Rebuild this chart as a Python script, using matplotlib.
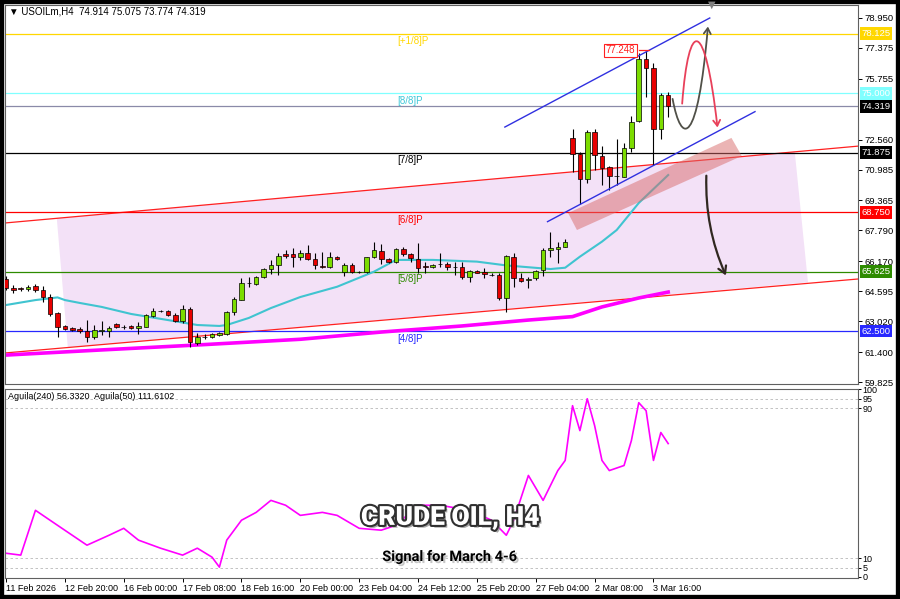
import numpy as np
import matplotlib.pyplot as plt
import matplotlib.patheffects as pe
from matplotlib.patches import Polygon, FancyArrowPatch, Rectangle
from matplotlib.path import Path
from matplotlib.transforms import blended_transform_factory

plt.rcParams['font.family'] = ['Liberation Sans', 'DejaVu Sans']

# H4 candles, one per bar (bar 0 = 11 Feb 2026)
opens = [65.23, 64.79, 64.74, 64.70, 64.87, 64.66, 64.27, 63.43, 62.77, 62.68,
         62.59, 62.50, 62.17, 62.53, 62.52, 62.88, 62.74, 62.77, 62.65, 62.73,
         63.29, 63.56, 63.57, 63.35, 63.05, 63.68, 61.86, 62.19, 62.17, 62.30,
         62.35, 63.52, 64.13, 65.03, 64.97, 65.33, 65.75, 65.99, 66.55, 66.54,
         66.41, 66.59, 66.27, 65.94, 65.89, 66.41, 65.62, 65.97, 65.63, 65.59,
         66.38, 66.71, 66.27, 66.15, 66.80, 66.54, 66.27, 65.90, 65.85, 66.00,
         66.01, 65.87, 65.85, 65.36, 65.67, 65.62, 65.47, 65.43, 64.24, 66.41,
         65.27, 65.18, 65.27, 65.69, 66.76, 66.83, 66.94, 72.63, 71.81, 70.47,
         72.98, 71.70, 71.10, 70.67, 70.61, 72.10, 73.55, 76.78, 76.31, 73.10,
         74.914]
closes = [64.76, 64.66, 64.69, 64.83, 64.66, 64.27, 63.40, 62.73, 62.63, 62.56,
          62.50, 62.17, 62.56, 62.56, 62.68, 62.70, 62.72, 62.65, 62.77, 63.35,
          63.57, 63.58, 63.35, 63.05, 63.68, 61.91, 62.17, 62.21, 62.33, 62.38,
          63.52, 64.17, 65.01, 65.05, 65.33, 65.75, 65.99, 66.45, 66.45, 66.41,
          66.59, 66.27, 65.97, 65.89, 66.41, 66.29, 65.97, 65.62, 65.61, 66.38,
          66.76, 66.27, 66.15, 66.80, 66.54, 66.33, 65.83, 65.87, 65.97, 66.03,
          65.89, 65.85, 65.36, 65.66, 65.57, 65.50, 65.44, 64.22, 66.42, 65.27,
          65.14, 65.25, 65.67, 66.76, 66.88, 66.94, 67.20, 71.81, 70.47, 72.98,
          71.75, 71.05, 70.66, 70.65, 72.10, 73.50, 76.78, 76.31, 73.10, 74.91,
          74.319]
highs = [65.39, 64.92, 64.81, 64.90, 64.97, 64.89, 64.45, 63.50, 62.82, 62.74,
         62.73, 63.08, 62.82, 63.04, 62.77, 62.94, 62.84, 62.82, 62.99, 63.40,
         63.70, 63.63, 63.61, 63.43, 63.87, 63.75, 62.38, 62.33, 62.40, 62.45,
         63.56, 64.27, 65.27, 65.36, 65.39, 65.82, 66.24, 66.59, 66.76, 66.85,
         66.76, 67.02, 66.59, 66.67, 66.67, 66.47, 66.06, 66.06, 65.68, 66.41,
         67.20, 67.08, 66.34, 66.85, 66.94, 66.62, 67.11, 66.15, 66.05, 66.59,
         66.15, 66.15, 66.15, 65.71, 65.73, 65.80, 65.53, 65.54, 66.50, 66.62,
         65.54, 65.36, 65.71, 66.84, 67.72, 67.20, 67.32, 73.10, 71.93, 73.07,
         73.10, 72.22, 71.17, 72.58, 72.37, 73.80, 77.13, 77.248, 76.60, 75.00,
         75.075]
lows = [64.66, 64.50, 64.61, 64.63, 64.58, 64.04, 63.29, 62.21, 62.56, 62.50,
        62.38, 61.94, 62.08, 62.30, 62.21, 62.65, 62.61, 62.59, 62.35, 62.69,
        63.22, 63.52, 63.29, 62.99, 62.91, 61.68, 61.77, 62.10, 62.14, 62.24,
        62.30, 63.35, 64.11, 64.83, 64.92, 65.29, 65.50, 65.45, 66.33, 65.89,
        66.24, 66.24, 65.75, 65.80, 65.80, 66.24, 65.40, 65.54, 65.55, 65.54,
        66.33, 66.03, 66.08, 66.06, 66.45, 66.15, 65.54, 65.54, 65.79, 65.89,
        65.71, 65.45, 65.22, 65.09, 65.53, 65.27, 65.37, 64.13, 63.52, 64.83,
        65.09, 64.75, 65.18, 65.40, 66.38, 66.06, 66.90, 70.87, 69.18, 70.27,
        70.96, 70.18, 69.91, 70.18, 70.61, 71.92, 73.50, 74.82, 71.23, 72.58,
        73.774]

date_labels = ["11 Feb 2026", "12 Feb 20:00", "16 Feb 00:00", "17 Feb 08:00",
               "18 Feb 16:00", "20 Feb 00:00", "23 Feb 04:00", "24 Feb 12:00",
               "25 Feb 20:00", "27 Feb 04:00", "2 Mar 08:00", "3 Mar 16:00"]
date_bars = [0, 8, 16, 24, 32, 40, 48, 56, 64, 72, 80, 88]

# moving averages
ma_fast_bars = [0, 4, 7, 8, 10, 13, 17, 22, 26, 29, 30, 33, 36, 40, 45, 50, 53,
                58, 64, 68, 74, 76, 78, 81, 83, 86, 90]
ma_fast_vals = [63.87, 64.13, 64.27, 64.13, 63.98, 63.77, 63.40, 63.08, 62.82,
                62.77, 62.82, 63.19, 63.71, 64.29, 64.83, 65.62, 66.24, 66.24,
                66.15, 65.95, 65.76, 65.83, 66.41, 67.20, 67.81, 69.23, 70.70]
ma_slow_bars = [0, 13, 26, 40, 51, 62, 71, 77, 81, 86, 90]
ma_slow_vals = [61.24, 61.51, 61.77, 62.07, 62.45, 62.77, 63.08, 63.26, 63.77,
                64.24, 64.55]

# Aguila oscillator
agu_bars = [0, 2, 4, 7, 9, 11, 14, 16, 18, 21, 24, 26, 28, 29, 30, 32, 34, 36,
            38, 40, 43, 45, 48, 51, 53, 56, 59, 63, 66, 68, 69, 71, 73, 75, 76,
            77, 78, 79, 80, 81, 82, 84, 85, 86, 87, 88, 89, 90]
agu_vals = [12.6, 11.6, 35.5, 27.5, 22.2, 16.9, 22.2, 25.9, 19.6, 15.3, 11.6,
            15.3, 10.5, 5.2, 19.6, 30.2, 34.4, 40.8, 38.2, 32.8, 34.4, 32.8,
            25.9, 24.9, 27.5, 38.2, 38.2, 35.5, 30.2, 22.2, 30.2, 54.1, 40.8,
            56.7, 62.1, 91.3, 78.0, 95.0, 80.7, 62.1, 56.7, 59.4, 72.7, 92.9,
            88.6, 62.1, 77.0, 71.1]

levels = [78.125, 75.000, 71.875, 68.750, 65.625, 62.500]
level_names = ["[+1/8]P", "[8/8]P", "[7/8]P", "[6/8]P", "[5/8]P", "[4/8]P"]
level_colors = ["#ffd700", "#80ffff", "#000000", "#ff0000", "#2e8b00", "#2828ff"]
price_ticks = [78.950, 77.375, 75.755, 72.560, 70.985, 69.365, 67.790, 66.170,
               64.595, 63.020, 61.400, 59.825]
last_price = 74.319
peak_price = 77.248

fig = plt.figure(figsize=(9, 5.99), dpi=100)
ax = fig.add_axes([5 / 900, 1 - 384 / 599, 853 / 900, 379 / 599])
ax2 = fig.add_axes([5 / 900, 1 - 578 / 599, 853 / 900, 189 / 599], sharex=ax)

# channel shading and lines
ax.add_patch(Polygon([(6.9, 68.42), (107.2, 71.93), (109.0, 65.06), (8.4, 61.64)],
                     closed=True, facecolor='#f3e1f7', edgecolor='none', zorder=0))
ax.axline((0, 68.185), (115, 72.19), color='#ff2020', lw=0.9, zorder=1)
ax.axline((0, 61.355), (115, 65.21), color='#ff2020', lw=0.9, zorder=1)

# murrey levels
for lv, name, col in zip(levels, level_names, level_colors):
    ax.axhline(lv, color=col, lw=0.9, zorder=1)
    ax.annotate(name, (53.2, lv), xytext=(0, -2), textcoords='offset points',
                ha='left', va='top', fontsize=7,
                color=col if col != '#80ffff' else '#40c8d8')
ax.axhline(last_price, color='#8a8aa8', lw=0.9, zorder=1)

# moving averages
ax.plot(ma_slow_bars, ma_slow_vals, color='#ff00ff', lw=2.6, zorder=2)
ax.plot(ma_fast_bars, ma_fast_vals, color='#40c4d0', lw=1.5, zorder=2)

# candles
o = np.array(opens)
c = np.array(closes)
x = np.arange(len(o))
up = c >= o
ax.vlines(x, lows, highs, color='black', lw=0.8, zorder=3)
body_lo = np.minimum(o, c)
body_h = np.maximum(np.abs(c - o), 0.02)
ax.bar(x[up], body_h[up], bottom=body_lo[up], width=0.62, color='#7cdc00',
       edgecolor='black', lw=0.5, zorder=4)
ax.bar(x[~up], body_h[~up], bottom=body_lo[~up], width=0.62, color='#e80000',
       edgecolor='black', lw=0.5, zorder=4)

# pink zone
ax.add_patch(Polygon([(76.4, 68.70), (77.6, 67.81), (100.0, 71.70), (98.6, 72.65)],
                     closed=True, facecolor='#d86a6a', alpha=0.5, edgecolor='none', zorder=5))

# ascending blue channel
ax.plot([67.8, 95.65], [73.22, 78.95], color='#3030e0', lw=1.0, zorder=5)
ax.plot([73.6, 101.8], [68.25, 74.03], color='#3030e0', lw=1.0, zorder=5)

# scenario arrows
grey_path = Path([(90.6, 74.7), (91.8, 72.2), (94.0, 72.2), (95.4, 78.5)],
                 [Path.MOVETO, Path.CURVE4, Path.CURVE4, Path.CURVE4])
ax.add_patch(FancyArrowPatch(path=grey_path, arrowstyle='->,head_length=4,head_width=2.5',
                             color='#505048', lw=1.3, zorder=6))
red_path = Path([(91.9, 74.45), (92.8, 79.0), (95.0, 79.0), (96.7, 73.2)],
                [Path.MOVETO, Path.CURVE4, Path.CURVE4, Path.CURVE4])
ax.add_patch(FancyArrowPatch(path=red_path, arrowstyle='->,head_length=4,head_width=2.5',
                             color='#e8405a', lw=1.3, zorder=6))
ax.add_patch(FancyArrowPatch((95.2, 70.81), (98.0, 65.29), connectionstyle='arc3,rad=0.12',
                             arrowstyle='->,head_length=5,head_width=3', color='#302820',
                             lw=1.6, zorder=6))

# peak label
ax.plot([86.0, 87.4], [peak_price, peak_price], color='#ff2020', lw=0.9, zorder=6)
ax.text(81.5, peak_price, "77.248", fontsize=7, color='#ff2020', ha='left', va='center',
        bbox=dict(boxstyle='square,pad=0.15', fc='white', ec='#ff2020', lw=0.8), zorder=7)

ax.set_xlim(-0.14, 115.8)
ax.set_ylim(59.72, 79.633)

tr = blended_transform_factory(ax.transAxes, ax.transData)
ax.yaxis.tick_right()
ax.set_yticks(price_ticks)
ax.set_yticklabels([f"{v:.3f}" for v in price_ticks])
ax.tick_params(axis='y', direction='out', length=3, width=0.7, labelsize=6.8, pad=2)
ax.tick_params(axis='x', bottom=False, labelbottom=False)
box_cols = ["#ffd700", "#80ffff", "#000000", "#ff0000", "#2e8b00", "#2828ff"]
for lv, col in zip(levels, box_cols):
    ax.text(1.004, lv, f"{lv:.3f}", transform=tr, fontsize=6.8, color='white',
            ha='left', va='center',
            bbox=dict(boxstyle='square,pad=0.2', fc=col, ec='none'))
ax.text(1.004, last_price, f"{last_price:.3f}", transform=tr, fontsize=6.8,
        color='white', ha='left', va='center',
        bbox=dict(boxstyle='square,pad=0.2', fc='black', ec='none'))

for a in (ax, ax2):
    for s in a.spines.values():
        s.set_color('#606060')
        s.set_linewidth(0.8)

# lower panel
for lv in (95, 90, 10, 5):
    ax2.axhline(lv, color='#b8b8b8', lw=0.6, ls=(0, (3, 3)))
ax2.plot(agu_bars, agu_vals, color='#ff00ff', lw=1.2)
ax2.set_ylim(-0.6, 100.2)
ax2.yaxis.tick_right()
ax2.set_yticks([100, 95, 90, 10, 5, 0])
ax2.tick_params(axis='y', direction='out', length=2, width=0.7, labelsize=6.5, pad=1)
ax2.set_xticks(date_bars)
ax2.set_xticklabels(date_labels, ha='left')
ax2.tick_params(axis='x', direction='out', length=3, width=0.7, labelsize=6.5, pad=1)

ax2.text(0.004, 0.985, "Aguila(240) 56.3320  Aguila(50) 111.6102", transform=ax2.transAxes,
         fontsize=6.5, ha='left', va='top')

fig.text(9 / 900, 1 - 11 / 599, "\u25bc USOILm,H4  74.914 75.075 73.774 74.319",
         fontsize=7, ha='left', va='center')

fig.text(0.5, 1 - 518 / 599, "CRUDE OIL, H4", family=['Roboto', 'DejaVu Sans'],
         fontsize=19, fontweight='black', color='white', ha='center', va='center',
         path_effects=[pe.withSimplePatchShadow(offset=(2, -2), shadow_rgbFace='#808080', alpha=0.7),
                       pe.Stroke(linewidth=3, foreground='#303030'), pe.Normal()])
fig.text(0.5, 1 - 557 / 599, "Signal for March 4-6", family=['Roboto', 'DejaVu Sans'],
         fontsize=10.5, fontweight='bold', color='black', ha='center', va='center',
         path_effects=[pe.withSimplePatchShadow(offset=(1.5, -1.5), shadow_rgbFace='#a0a0a0', alpha=0.6)])

# chart shift marker and outer frame
fig.text(712 / 900, 1 - 5 / 599, "\u25bc", family=['DejaVu Sans'], fontsize=7,
         color='#808080', ha='center', va='center')
fig.patches.append(Rectangle((0, 0), 1, 1, transform=fig.transFigure, fill=False,
                             edgecolor='black', lw=6))

fig.savefig('out.png', dpi=100)
